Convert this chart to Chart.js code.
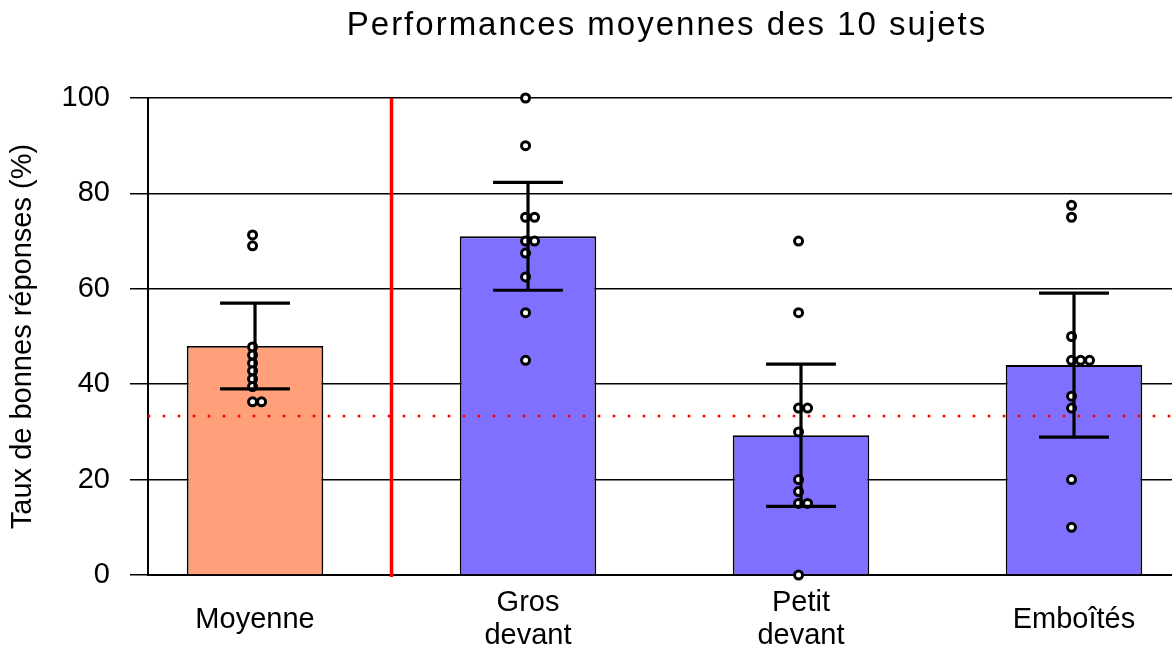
<!DOCTYPE html>
<html>
<head>
<meta charset="utf-8">
<script src="https://cdn.jsdelivr.net/npm/chart.js@4/dist/chart.umd.min.js"></script>
<style>
  html, body { margin: 0; padding: 0; background: #ffffff; }
  canvas { display: block; }
</style>
</head>
<body>
<canvas id="c" width="1172" height="653"></canvas>
<script>
// ---------- Data ----------
const chartTitle = 'Performances moyennes des 10 sujets';
const yAxisTitle = 'Taux de bonnes réponses (%)';
const categories = ['Moyenne', ['Gros', 'devant'], ['Petit', 'devant'], 'Emboîtés'];
const meanValues = [48.0, 71.0, 29.3, 44.0];
const errorValues = [9.0, 11.3, 14.9, 15.1];
const subjectsMoyenne = [71.3, 69.0, 47.8, 46.1, 44.4, 42.8, 41.1, 39.5, 36.3, 36.3];
const subjectsGros = [100, 90, 75, 75, 70, 70, 67.5, 62.5, 55, 45];
const subjectsPetit = [70, 55, 35, 35, 30, 20, 17.5, 15, 15, 0];
const subjectsEmboites = [77.5, 75, 50, 45, 45, 45, 37.5, 35, 20, 10];
const subjectValues = [subjectsMoyenne, subjectsGros, subjectsPetit, subjectsEmboites];
const chanceLevel = 33.33;
const yTicks = [0, 20, 40, 60, 80, 100];

// ---------- Styles ----------
const FONT = '"Liberation Sans", Arial, sans-serif';
const barColors = ['#FFA07A', '#8070FF', '#8070FF', '#8070FF'];
const X_MIN = 0.608, X_MAX = 4.359;
const JITTER = 0.033, POINT_SHIFT = -0.009;

const catPos = categories.map((_, i) => i + 1);
const separatorPos = (catPos[0] + catPos[1]) / 2;

const barData = meanValues.map((v, i) => ({ x: catPos[i], y: v }));
const pointData = [];
subjectValues.forEach((vals, i) => {
  const seen = {};
  vals.forEach(v => {
    const k = seen[v] || 0;
    seen[v] = k + 1;
    pointData.push({ x: catPos[i] + POINT_SHIFT + k * JITTER, y: v });
  });
});

const overlayPlugin = {
  id: 'overlay',
  beforeDatasetsDraw(chart) {
    const { ctx, scales } = chart;
    const x = scales.x.getPixelForValue(separatorPos);
    ctx.save();
    ctx.strokeStyle = '#FF0000';
    ctx.lineWidth = 3.5;
    ctx.beginPath();
    ctx.moveTo(x, scales.y.getPixelForValue(yTicks[yTicks.length - 1]));
    ctx.lineTo(x, scales.y.getPixelForValue(0) + 2);
    ctx.stroke();
    ctx.restore();
  },
  afterDatasetsDraw(chart) {
    const { ctx, chartArea, scales } = chart;
    ctx.save();
    const yc = scales.y.getPixelForValue(chanceLevel);
    ctx.strokeStyle = '#FF0000';
    ctx.lineWidth = 3;
    ctx.lineCap = 'round';
    ctx.setLineDash([0, 15]);
    ctx.beginPath();
    ctx.moveTo(chartArea.left + 1, yc);
    ctx.lineTo(chartArea.right, yc);
    ctx.stroke();
    ctx.setLineDash([]);
    ctx.strokeStyle = '#000000';
    ctx.lineWidth = 3.2;
    ctx.lineCap = 'butt';
    const half = (scales.x.getPixelForValue(1.128) - scales.x.getPixelForValue(1));
    meanValues.forEach((m, i) => {
      const x = scales.x.getPixelForValue(catPos[i]);
      const yt = scales.y.getPixelForValue(m + errorValues[i]);
      const yb = scales.y.getPixelForValue(m - errorValues[i]);
      ctx.beginPath();
      ctx.moveTo(x, yt); ctx.lineTo(x, yb);
      ctx.moveTo(x - half, yt); ctx.lineTo(x + half, yt);
      ctx.moveTo(x - half, yb); ctx.lineTo(x + half, yb);
      ctx.stroke();
    });
    ctx.restore();
  },
  afterDraw(chart) {
    const { ctx, chartArea } = chart;
    ctx.save();
    ctx.fillStyle = '#000000';
    ctx.font = '33px ' + FONT;
    try { ctx.letterSpacing = '2px'; } catch (e) {}
    ctx.textAlign = 'center';
    ctx.textBaseline = 'alphabetic';
    ctx.fillText(chartTitle, (chartArea.left + chartArea.right) / 2 + 7, 35);
    ctx.restore();
  }
};

new Chart(document.getElementById('c'), {
  data: {
    datasets: [
      {
        type: 'scatter',
        data: pointData,
        order: 0,
        pointRadius: 4.0,
        pointHoverRadius: 4.0,
        pointBorderWidth: 3,
        pointBorderColor: '#000000',
        pointBackgroundColor: '#FFFFFF',
        showLine: false,
        clip: false
      },
      {
        type: 'bar',
        data: barData,
        order: 1,
        backgroundColor: barColors,
        borderColor: '#000000',
        borderWidth: 1.8,
        categoryPercentage: 1.0,
        barPercentage: 0.5
      }
    ]
  },
  options: {
    responsive: false,
    animation: false,
    devicePixelRatio: 1,
    layout: { autoPadding: false, padding: { top: 98, left: 0, right: 0, bottom: 0 } },
    plugins: {
      legend: { display: false },
      tooltip: { enabled: false },
      title: { display: false }
    },
    scales: {
      x: {
        type: 'linear',
        offset: false,
        min: X_MIN,
        max: X_MAX,
        afterBuildTicks(scale) { scale.ticks = catPos.map(v => ({ value: v })); },
        afterFit(scale) { scale.height = 78; scale.paddingLeft = 0; scale.paddingRight = 0; },
        ticks: {
          callback: (v) => { const i = catPos.indexOf(v); return i >= 0 ? categories[i] : ''; },
          color: '#000000',
          font: { family: FONT, size: 29, lineHeight: 1.14 },
          padding: 28,
          maxRotation: 0,
          autoSkip: false,
          crossAlign: 'center'
        },
        grid: { display: false, drawTicks: false },
        border: { display: true, color: '#000000', width: 2 }
      },
      y: {
        min: 0,
        max: 100,
        afterBuildTicks(scale) { scale.ticks = yTicks.map(v => ({ value: v })); },
        afterFit(scale) { scale.width = 148; },
        ticks: {
          color: '#000000',
          font: { family: FONT, size: 29 },
          padding: 20
        },
        grid: {
          color: '#000000',
          lineWidth: 1.5,
          drawTicks: true,
          tickLength: 18,
          tickColor: '#000000',
          tickWidth: 1.5
        },
        border: { display: true, color: '#000000', width: 2 },
        title: {
          display: true,
          text: yAxisTitle,
          color: '#000000',
          font: { family: FONT, size: 29 },
          padding: { top: 6, bottom: 0 }
        }
      }
    }
  },
  plugins: [overlayPlugin]
});
</script>
</body>
</html>
